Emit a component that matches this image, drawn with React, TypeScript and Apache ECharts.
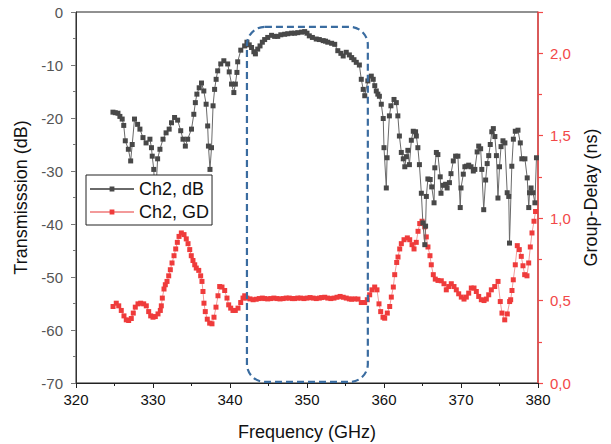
import React, { useEffect, useRef } from "react";
import * as echarts from "echarts";

const FONT = "'Liberation Sans', Arial, sans-serif";

const seriesNames = ["Ch2, dB", "Ch2, GD"];
const xTitle = "Frequency (GHz)";
const yLeftTitle = "Transmisssion (dB)";
const yRightTitle = "Group-Delay (ns)";

// Transmission (dB) vs frequency (GHz)
const dbPoints: [number, number][] = [
  [324.8, -18.9], [325.1, -19.0], [325.45, -19.1], [325.7, -19.7], [326.0, -20.2], [326.2, -21.4],
  [326.4, -24.3], [326.8, -25.9], [327.1, -28.1], [327.3, -25.0], [327.6, -20.2], [328.0, -21.2],
  [328.3, -22.1], [328.7, -23.7], [329.1, -24.7], [329.6, -24.0], [329.8, -25.6], [329.9, -27.2],
  [330.1, -29.7], [330.3, -36.0], [330.6, -27.7], [330.9, -25.9], [331.3, -24.0], [331.7, -22.8],
  [332.1, -22.1], [332.4, -20.9], [332.8, -19.9], [333.2, -20.4], [333.6, -22.4], [333.9, -24.0],
  [334.2, -25.3], [334.5, -24.0], [335.0, -22.1], [335.3, -19.3], [335.5, -17.1], [335.7, -15.5],
  [336.0, -14.3], [336.3, -13.4], [336.6, -14.9], [336.9, -17.4], [337.1, -21.5], [337.2, -25.3],
  [337.4, -29.7], [337.6, -25.6], [337.8, -17.7], [338.0, -14.6], [338.2, -12.7], [338.4, -11.1],
  [338.8, -9.8], [339.2, -9.2], [339.7, -9.8], [339.9, -11.3], [340.2, -13.6], [340.5, -15.2],
  [340.7, -13.6], [340.9, -11.4], [341.0, -9.4], [341.4, -7.2], [341.9, -6.4], [342.2, -5.7],
  [342.5, -6.2], [342.8, -6.7], [343.1, -7.5], [343.3, -7.9], [343.6, -7.0], [343.9, -6.4],
  [344.2, -5.7], [344.5, -5.2], [344.9, -4.8], [345.4, -4.4], [345.8, -4.6], [346.2, -4.6],
  [346.6, -4.3], [347.1, -4.2], [347.5, -4.1], [348.0, -4.0], [348.4, -4.0], [348.8, -3.9],
  [349.3, -3.8], [349.7, -3.7], [350.0, -4.0], [350.3, -4.5], [350.7, -4.8], [351.2, -5.1],
  [351.6, -5.2], [352.1, -5.4], [352.4, -5.5], [352.7, -5.7], [353.2, -5.9], [353.6, -6.1],
  [354.0, -7.3], [354.4, -7.8], [354.7, -8.3], [355.1, -7.6], [355.5, -8.1], [355.8, -8.6],
  [356.1, -9.0], [356.4, -9.5], [356.8, -10.0], [357.05, -12.7], [357.3, -14.6], [357.5, -15.8],
  [357.9, -13.0], [358.35, -12.1], [358.6, -12.7], [358.8, -13.9], [359.0, -14.9], [359.2, -15.5],
  [359.4, -15.9], [359.65, -17.4], [359.9, -20.1], [360.0, -25.6], [360.3, -33.2], [360.4, -27.5],
  [360.7, -19.6], [360.9, -17.7], [361.3, -16.5], [361.6, -17.1], [361.8, -19.6], [362.0, -23.4],
  [362.25, -26.5], [362.5, -27.7], [362.7, -29.2], [362.9, -27.3], [363.1, -26.1], [363.3, -28.8],
  [363.55, -24.2], [363.8, -22.5], [364.1, -22.6], [364.2, -23.4], [364.4, -25.6], [364.6, -28.8],
  [364.85, -34.2], [365.05, -39.8], [365.3, -43.9], [365.4, -40.4], [365.5, -34.8], [365.7, -31.5],
  [366.0, -31.6], [366.2, -33.0], [366.5, -36.0], [366.6, -29.4], [366.8, -26.5], [367.0, -26.9],
  [367.3, -31.1], [367.4, -34.2], [367.7, -32.7], [368.0, -32.5], [368.2, -33.2], [368.5, -32.2],
  [368.7, -30.5], [369.0, -28.1], [369.3, -27.2], [369.6, -27.2], [369.9, -36.9], [370.0, -33.2],
  [370.3, -30.6], [370.5, -29.2], [370.7, -29.1], [371.0, -28.9], [371.3, -29.2], [371.6, -30.0],
  [371.8, -29.7], [372.1, -26.4], [372.3, -25.3], [372.55, -25.8], [372.7, -29.7], [372.95, -37.3],
  [373.2, -31.7], [373.4, -28.6], [373.6, -27.1], [373.8, -25.0], [374.0, -22.6], [374.2, -22.0],
  [374.4, -23.5], [374.6, -27.1], [374.8, -35.1], [375.0, -29.2], [375.2, -25.4], [375.45, -24.3],
  [375.7, -24.7], [376.0, -34.1], [376.2, -34.8], [376.3, -43.6], [376.6, -29.1], [376.8, -24.0],
  [377.05, -22.5], [377.4, -22.3], [377.7, -24.7], [377.9, -27.7], [378.3, -27.7], [378.6, -31.3],
  [378.8, -36.9], [378.9, -34.1], [379.1, -33.2], [379.35, -34.1], [379.6, -36.0], [379.8, -27.5],
];

// Group delay (ns) vs frequency (GHz)
const gdPoints: [number, number][] = [
  [324.81, 0.464], [325.23, 0.484], [325.55, 0.468], [325.88, 0.44], [326.23, 0.407], [326.53, 0.383],
  [326.84, 0.379], [327.18, 0.391], [327.44, 0.424], [327.7, 0.46], [328.05, 0.48], [328.4, 0.484],
  [328.79, 0.48], [329.13, 0.468], [329.44, 0.433], [329.7, 0.407], [330.0, 0.399], [330.3, 0.403],
  [330.65, 0.419], [330.95, 0.44], [331.08, 0.468], [331.21, 0.515], [331.43, 0.57], [331.6, 0.596],
  [331.82, 0.616], [332.04, 0.65], [332.25, 0.687], [332.47, 0.728], [332.73, 0.772], [332.95, 0.813],
  [333.16, 0.853], [333.38, 0.889], [333.68, 0.91], [334.03, 0.9], [334.32, 0.874], [334.55, 0.845],
  [334.77, 0.809], [334.97, 0.772], [335.19, 0.743], [335.42, 0.717], [335.62, 0.697], [335.94, 0.683],
  [336.19, 0.65], [336.36, 0.616], [336.49, 0.555], [336.62, 0.484], [336.79, 0.433], [337.05, 0.387],
  [337.36, 0.363], [337.66, 0.359], [337.92, 0.399], [338.18, 0.46], [338.44, 0.529], [338.66, 0.585],
  [338.96, 0.582], [339.31, 0.561], [339.61, 0.515], [339.83, 0.474], [340.09, 0.454], [340.39, 0.44],
  [340.69, 0.44], [341.04, 0.454], [341.39, 0.488], [341.69, 0.515], [341.91, 0.529], [342.2, 0.515],
  [342.6, 0.51], [343.0, 0.505], [343.4, 0.508], [343.8, 0.512], [344.2, 0.515], [344.5, 0.512],
  [344.9, 0.51], [345.3, 0.512], [345.7, 0.515], [346.1, 0.512], [346.5, 0.51], [346.9, 0.512],
  [347.3, 0.515], [347.7, 0.515], [348.1, 0.512], [348.4, 0.512], [348.8, 0.515], [349.2, 0.515],
  [349.6, 0.512], [350.0, 0.515], [350.4, 0.518], [350.8, 0.515], [351.2, 0.512], [351.6, 0.515],
  [351.9, 0.518], [352.3, 0.52], [352.7, 0.515], [353.1, 0.512], [353.5, 0.515], [353.9, 0.52],
  [354.3, 0.525], [354.7, 0.52], [355.1, 0.515], [355.5, 0.51], [355.8, 0.508], [356.2, 0.51],
  [356.62, 0.509], [357.05, 0.488], [357.49, 0.488], [357.83, 0.505], [358.14, 0.535], [358.44, 0.565],
  [358.79, 0.582], [359.09, 0.565], [359.35, 0.48], [359.57, 0.433], [359.87, 0.399], [360.09, 0.393],
  [360.43, 0.424], [360.74, 0.464], [360.95, 0.521], [361.21, 0.582], [361.39, 0.657], [361.65, 0.731],
  [361.82, 0.764], [362.04, 0.813], [362.25, 0.845], [362.6, 0.869], [363.03, 0.88], [363.34, 0.869],
  [363.64, 0.839], [363.9, 0.813], [364.19, 0.853], [364.42, 0.92], [364.64, 0.967], [364.94, 0.981],
  [365.29, 0.947], [365.49, 0.886], [365.71, 0.825], [365.97, 0.772], [366.14, 0.717], [366.4, 0.657],
  [366.66, 0.63], [367.01, 0.622], [367.44, 0.62], [367.79, 0.602], [368.09, 0.565], [368.4, 0.585],
  [368.74, 0.602], [369.09, 0.585], [369.39, 0.565], [369.7, 0.541], [370.04, 0.521], [370.39, 0.509],
  [370.69, 0.521], [371.0, 0.545], [371.34, 0.576], [371.69, 0.576], [371.99, 0.555], [372.3, 0.525],
  [372.64, 0.505], [372.99, 0.5], [373.29, 0.509], [373.6, 0.535], [373.94, 0.565], [374.38, 0.585],
  [374.81, 0.616], [375.1, 0.494], [375.32, 0.424], [375.68, 0.383], [376.01, 0.419], [376.32, 0.494],
  [376.45, 0.505], [376.62, 0.561], [376.79, 0.626], [377.05, 0.717], [377.31, 0.833], [377.57, 0.809],
  [377.83, 0.768], [378.05, 0.711], [378.27, 0.657], [378.57, 0.65], [378.79, 0.728], [379.0, 0.825],
  [379.22, 0.91], [379.48, 0.981], [379.68, 1.04],
];

// Pass-band highlight (frequency GHz, dB)
const boxFreq = [342.2, 357.9];
const boxDb = [-2.8, -69.8];

const fmtComma = (v: number) => v.toFixed(1).replace(".", ",");

export default function App() {
  const ref = useRef<HTMLDivElement>(null);

  useEffect(() => {
    const chart = echarts.init(ref.current!, null, { renderer: "svg" });
    const option: any = {
      animation: false,
      backgroundColor: "#ffffff",
      textStyle: { fontFamily: FONT },
      grid: {
        left: 76,
        right: 73,
        top: 12,
        bottom: 61,
        show: true,
        borderColor: "#222",
        borderWidth: 1,
        backgroundColor: "transparent",
        outerBoundsMode: "none",
      },
      legend: {
        orient: "vertical",
        left: 86,
        top: 175,
        data: seriesNames,
        itemWidth: 44,
        itemHeight: 6,
        itemGap: 5,
        padding: [5, 3, 4, 3],
        backgroundColor: "#fff",
        borderColor: "#222",
        borderWidth: 1,
        borderRadius: 0,
        textStyle: { fontSize: 18, color: "#111", fontFamily: FONT, lineHeight: 18 },
      },
      xAxis: {
        type: "value",
        min: 320,
        max: 380,
        interval: 10,
        name: xTitle,
        nameLocation: "middle",
        nameGap: 40,
        nameTextStyle: { fontSize: 18, color: "#111", fontFamily: FONT },
        axisLine: { show: true, onZero: false, lineStyle: { color: "#222", width: 1 } },
        axisTick: { show: true, length: 5, lineStyle: { color: "#222" } },
        minorTick: { show: true, splitNumber: 2, length: 3, lineStyle: { color: "#222" } },
        axisLabel: { fontSize: 15, color: "#111", margin: 9, fontFamily: FONT },
        splitLine: { show: false },
      },
      yAxis: [
        {
          type: "value",
          position: "left",
          min: -70,
          max: 0,
          interval: 10,
          name: yLeftTitle,
          nameLocation: "middle",
          nameRotate: 90,
          nameGap: 44,
          nameTextStyle: { fontSize: 18, color: "#111", fontFamily: FONT },
          axisLine: { show: true, onZero: false, lineStyle: { color: "#333", width: 1 } },
          axisTick: { show: true, length: 5, lineStyle: { color: "#777" } },
          minorTick: { show: true, splitNumber: 2, length: 3, lineStyle: { color: "#777" } },
          axisLabel: { fontSize: 15, color: "#555", margin: 13, fontFamily: FONT },
          splitLine: { show: false },
        },
        {
          type: "value",
          position: "right",
          min: 0,
          max: 2.25,
          interval: 0.5,
          name: yRightTitle,
          nameLocation: "middle",
          nameRotate: 90,
          nameGap: 42,
          nameTextStyle: { fontSize: 18, color: "#111", fontFamily: FONT },
          axisLine: { show: true, onZero: false, lineStyle: { color: "#f24848", width: 1.5 } },
          axisTick: { show: true, length: 5, lineStyle: { color: "#f24848", width: 1.2 } },
          minorTick: { show: true, splitNumber: 2, length: 4, lineStyle: { color: "#f24848", width: 1.2 } },
          axisLabel: {
            fontSize: 15,
            color: "#f24848",
            margin: 12,
            fontFamily: FONT,
            showMaxLabel: false,
            formatter: (v: number) => fmtComma(v),
          },
          splitLine: { show: false },
        },
      ],
      series: [
        {
          name: seriesNames[0],
          type: "line",
          xAxisIndex: 0,
          yAxisIndex: 0,
          data: dbPoints,
          symbol: "rect",
          symbolSize: 5,
          z: 3,
          itemStyle: { color: "#484848" },
          lineStyle: { color: "#6a6a6a", width: 1 },
        },
        {
          name: seriesNames[1],
          type: "line",
          xAxisIndex: 0,
          yAxisIndex: 1,
          data: gdPoints,
          symbol: "rect",
          symbolSize: 5,
          z: 2,
          itemStyle: { color: "#ef3b3b" },
          lineStyle: { color: "#f39a9a", width: 1 },
        },
      ],
    };
    chart.setOption(option);

    const p0 = chart.convertToPixel({ xAxisIndex: 0, yAxisIndex: 0 }, [boxFreq[0], boxDb[0]]) as number[];
    const p1 = chart.convertToPixel({ xAxisIndex: 0, yAxisIndex: 0 }, [boxFreq[1], boxDb[1]]) as number[];
    chart.setOption({
      graphic: [
        {
          type: "rect",
          z: 10,
          shape: {
            x: p0[0],
            y: p0[1],
            width: p1[0] - p0[0],
            height: p1[1] - p0[1],
            r: 18,
          },
          style: {
            fill: "none",
            stroke: "#3a6ca0",
            lineWidth: 2.2,
            lineDash: [7, 4],
          },
          silent: true,
        },
      ],
    });

    return () => chart.dispose();
  }, []);

  return (
    <div
      ref={ref}
      style={{ position: "fixed", left: 0, top: 0, width: 611, height: 444 }}
    />
  );
}
